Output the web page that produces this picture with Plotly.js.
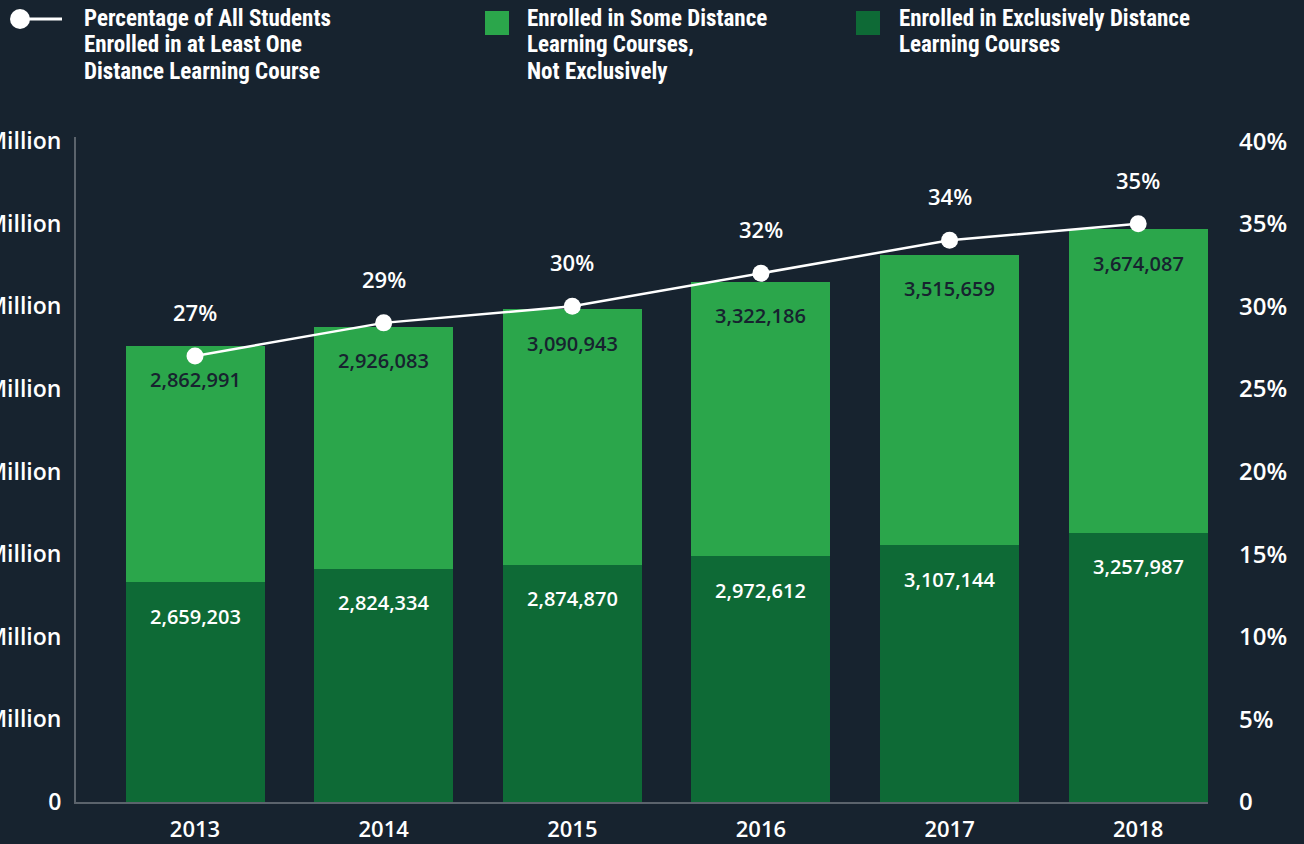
<!DOCTYPE html>
<html>
<head>
<meta charset="utf-8">
<script src="https://cdn.plot.ly/plotly-3.0.1.min.js"></script>
<style>
html,body{margin:0;padding:0;background:#17232f;}
#chart{width:1304px;height:844px;}
</style>
</head>
<body>
<div id="chart"></div>
<script>
// ---- data ----
const years = ['2013', '2014', '2015', '2016', '2017', '2018'];
const exclusivelyDistance = [2659203, 2824334, 2874870, 2972612, 3107144, 3257987];
const someDistance = [2862991, 2926083, 3090943, 3322186, 3515659, 3674087];
const pctAtLeastOne = [27, 29, 30, 32, 34, 35];
const leftTickVals = [0, 1, 2, 3, 4, 5, 6, 7, 8];
const leftTickText = ['0', '1 Million', '2 Million', '3 Million', '4 Million', '5 Million', '6 Million', '7 Million', '8 Million'];
const rightTickVals = [0, 5, 10, 15, 20, 25, 30, 35, 40];
const rightTickText = ['0', '5%', '10%', '15%', '20%', '25%', '30%', '35%', '40%'];
const legendLines = [
  ['Percentage of All Students', 'Enrolled in at Least One', 'Distance Learning Course'],
  ['Enrolled in Some Distance', 'Learning Courses,', 'Not Exclusively'],
  ['Enrolled in Exclusively Distance', 'Learning Courses']
];

// ---- style ----
const BG = '#17232f';
const LIGHT = '#2ba64b';
const DARK = '#0e6a36';
const AXIS = '#5b636c';
const NUMFONT = 'Open Sans, Lato, sans-serif';
const LEGFONT = 'Roboto Condensed, Liberation Sans Narrow, Arial Narrow, sans-serif';

const M = 1e6;
const exclM = exclusivelyDistance.map(v => v / M);
const someM = someDistance.map(v => v / M);
const totalM = exclM.map((v, i) => v + someM[i]);
const fmt = v => v.toLocaleString('en-US');

const traces = [
  {
    type: 'bar', x: years, y: exclM, name: legendLines[2].join(' '),
    marker: {color: DARK, line: {width: 0}}, width: 0.737, hoverinfo: 'skip', showlegend: false
  },
  {
    type: 'bar', x: years, y: someM, name: legendLines[1].join(' '),
    marker: {color: LIGHT, line: {width: 0}}, width: 0.737, hoverinfo: 'skip', showlegend: false
  },
  {
    type: 'scatter', mode: 'lines+markers', x: years, y: pctAtLeastOne, yaxis: 'y2', name: legendLines[0].join(' '),
    line: {color: '#ffffff', width: 2.5},
    marker: {color: '#ffffff', size: 17, line: {width: 0}},
    hoverinfo: 'skip', showlegend: false, cliponaxis: false
  }
];

const annotations = [];
years.forEach((yr, i) => {
  annotations.push({
    x: i, y: exclM[i], xref: 'x', yref: 'y', text: fmt(exclusivelyDistance[i]),
    showarrow: false, yanchor: 'middle', yshift: -34,
    font: {family: NUMFONT, size: 20, color: '#ffffff', weight: 600}
  });
  annotations.push({
    x: i, y: totalM[i], xref: 'x', yref: 'y', text: fmt(someDistance[i]),
    showarrow: false, yanchor: 'middle', yshift: -34,
    font: {family: NUMFONT, size: 20, color: BG, weight: 600}
  });
  annotations.push({
    x: i, y: pctAtLeastOne[i], xref: 'x', yref: 'y2', text: pctAtLeastOne[i] + '%',
    showarrow: false, yanchor: 'middle', yshift: 44,
    font: {family: NUMFONT, size: 22, color: '#ffffff', weight: 600}
  });
});

// ---- custom legend (pixel positions converted to paper coords) ----
const L = 76, R = 1208, T = 137, B = 802;
const px = x => (x - L) / (R - L);
const py = y => (B - y) / (B - T);
const legTextX = [82, 525, 897];
const legLineY = [19, 45, 71];
legendLines.forEach((lines, i) => {
  lines.forEach((t, j) => {
    annotations.push({
      xref: 'paper', yref: 'paper', x: px(legTextX[i]), y: py(legLineY[j]),
      xanchor: 'left', yanchor: 'middle', align: 'left', showarrow: false,
      text: t, font: {family: LEGFONT, size: 23, color: '#ffffff', weight: 700}
    });
  });
});
const shapes = [
  {type: 'line', xref: 'paper', yref: 'paper', x0: px(20), x1: px(62), y0: py(19), y1: py(19),
   line: {color: '#ffffff', width: 3}},
  {type: 'circle', xref: 'paper', yref: 'paper', x0: px(10), x1: px(30), y0: py(9), y1: py(29),
   fillcolor: '#ffffff', line: {width: 0}},
  {type: 'rect', xref: 'paper', yref: 'paper', x0: px(485), x1: px(509), y0: py(11), y1: py(35),
   fillcolor: LIGHT, line: {width: 0}},
  {type: 'rect', xref: 'paper', yref: 'paper', x0: px(856), x1: px(880), y0: py(11), y1: py(35),
   fillcolor: DARK, line: {width: 0}}
];

const layout = {
  width: 1304, height: 844,
  paper_bgcolor: BG, plot_bgcolor: BG,
  margin: {l: L, r: 1304 - R, t: T, b: 844 - B, pad: 0},
  barmode: 'stack', showlegend: false,
  xaxis: {
    type: 'category', range: [-0.631, 5.37],
    showline: true, linecolor: AXIS, linewidth: 2, layer: 'below traces',
    showgrid: false, zeroline: false, ticks: '', ticklabelstandoff: 7,
    tickfont: {family: NUMFONT, size: 22, color: '#ffffff', weight: 600}
  },
  yaxis: {
    range: [0, 8.05], tickvals: leftTickVals, ticktext: leftTickText,
    showline: true, linecolor: AXIS, linewidth: 2, layer: 'below traces',
    showgrid: false, zeroline: false, ticks: '', ticklabelstandoff: 8,
    tickfont: {family: NUMFONT, size: 23, color: '#ffffff', weight: 600}
  },
  yaxis2: {
    overlaying: 'y', side: 'right', range: [0, 40.25],
    tickvals: rightTickVals, ticktext: rightTickText,
    showline: false, showgrid: false, zeroline: false, ticks: '', ticklabelstandoff: 30,
    tickfont: {family: NUMFONT, size: 24, color: '#ffffff', weight: 600}
  },
  annotations: annotations,
  shapes: shapes
};

Plotly.newPlot('chart', traces, layout, {displayModeBar: false, staticPlot: true});
</script>
</body>
</html>
